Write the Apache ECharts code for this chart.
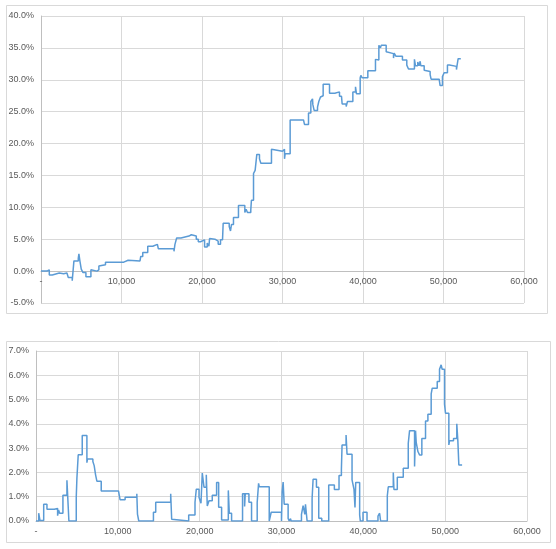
<!DOCTYPE html>
<html>
<head>
<meta charset="utf-8">
<script src="https://cdn.jsdelivr.net/npm/echarts@6/dist/echarts.min.js"></script>
<style>
html, body { margin: 0; padding: 0; background: #fff; }
#chart { width: 556px; height: 549px; }
</style>
</head>
<body>
<div id="chart"></div>
<script>
// top chart: cumulative % (step line)
var topX = [0, 330, 500, 740, 1030, 1400, 2270, 2810, 2970, 3220, 3390, 3880, 4090, 4630, 4710, 4830,
	5000, 5200, 5580, 6200, 6400, 6940, 7190, 7430, 8010, 10280, 10820, 12300, 12390, 12640, 13260,
	13880, 14460, 14580, 16520, 16640, 16850, 17390, 18380, 18670, 19290, 19540, 19820, 20320, 20650,
	20860, 20940, 21150, 21600, 22010, 22300, 22550, 22630, 23380, 23540, 23660, 23910, 24530, 25320,
	25480, 25650, 26060, 26140, 26400, 26600, 26810, 27140, 27310, 28630, 28800, 30000, 30250, 30330,
	30950, 32610, 32730, 33230, 33520, 33730, 33770, 33930, 34350, 34510, 34720, 34930, 35050, 35840,
	36500, 37080, 37330, 37410, 37910, 38070, 38740, 39070, 39190, 39650, 39730, 39900, 40600, 41550,
	41720, 41970, 42170, 42260, 42880, 43040, 43790, 43870, 44080, 44900, 45440, 45650, 46390, 46520,
	46800, 46970, 47100, 47180, 47600, 47720, 48340, 48460, 49460, 49580, 49870, 50080, 50490, 50740,
	51610, 51690, 51820, 52150];
var topY = [0.0, -0.3, 0.0, 0.2, -0.6, -0.3, -0.4, -0.1, -0.3, -0.2, -1.0, -1.5, 1.6, 2.0, 2.7, 1.6,
	0.3, -0.2, -0.9, 0.2, 0.0, 0.2, 0.8, 1.0, 1.4, 1.7, 1.6, 1.4, 2.3, 2.9, 3.9,
	4.2, 3.9, 3.5, 3.1, 4.2, 5.2, 5.5, 5.7, 5.5, 5.0, 4.6, 4.9, 3.8, 4.4,
	3.9, 5.1, 5.0, 4.7, 4.2, 4.9, 5.2, 7.5, 7.0, 6.3, 7.3, 8.4, 10.3, 9.2,
	9.7, 9.2, 9.6, 11.1, 15.3, 15.8, 18.3, 17.6, 16.9, 19.1, 18.8, 19.1, 17.6, 18.4,
	23.7, 23.6, 23.0, 24.8, 26.6, 27.0, 26.1, 25.2, 25.7, 26.6, 27.3, 27.5, 29.3, 27.9,
	28.1, 27.4, 27.2, 26.2, 25.8, 26.6, 28.1, 28.9, 27.8, 30.3, 30.7, 30.3, 31.4, 33.2,
	33.1, 35.4, 35.0, 35.4, 34.4, 34.1, 33.4, 34.2, 33.7, 33.1, 32.3, 31.7, 33.2, 32.2,
	32.8, 32.2, 32.9, 32.2, 31.5, 31.3, 30.8, 30.1, 29.9, 29.1, 30.5, 31.1, 32.3, 32.1,
	31.6, 32.3, 33.3, 33.3];

// bottom chart: drawdown-like % (step line)
var botX = [0, 330, 490, 940, 1340, 2240, 2640, 2760, 2890, 3290, 3780, 4020, 4920, 5000, 5160, 5650,
	6220, 6290, 6950, 7110, 7280, 7440, 7970, 10080, 10200, 10280, 10890, 12320, 12400, 12560, 14350,
	14630, 16460, 16580, 16710, 18660, 19430, 19590, 19920, 20160, 20320, 20530, 20810, 20930, 21140,
	21540, 22070, 22320, 22680, 23500, 23620, 23900, 25240, 25490, 25570, 26020, 26340, 27030, 27200,
	27280, 28500, 28740, 30000, 30080, 30200, 30330, 30810, 30940, 31100, 31180, 32440, 32640, 32850,
	32930, 33130, 33740, 33860, 34270, 34550, 34920, 35770, 36460, 37030, 37320, 37400, 37890, 38010,
	38620, 38860, 38980, 39070, 39550, 39630, 39960, 40450, 41790, 41990, 42110, 42930, 43050, 43660,
	43740, 44150, 44880, 45490, 45650, 46260, 46380, 46460, 46670, 46870, 47150, 47600, 47890, 48290,
	48420, 49030, 49310, 49510, 49630, 49920, 50040, 50450, 50530, 51020, 51420, 51550, 51670, 52070];
var botY = [0.0, 0.32, 0.02, 0.69, 0.48, 0.52, 0.22, 0.45, 0.32, 1.06, 1.68, 0.0, 1.0, 1.77, 2.73, 3.52,
	2.4, 2.55, 2.45, 2.28, 1.9, 1.64, 1.24, 1.17, 1.24, 0.87, 0.98, 1.12, 0.28, 0.0, 0.36,
	0.77, 1.12, 0.07, 0.0, 0.25, 0.77, 1.31, 0.98, 0.73, 1.97, 1.39, 1.9, 0.62, 0.83,
	1.06, 1.59, 0.57, 0.04, 1.26, 0.32, 0.0, 1.12, 0.6, 1.12, 0.77, 0.0, 0.77, 1.55,
	1.41, 0.0, 0.36, 0.0, 1.21, 1.6, 0.69, 0.1, 0.0, 0.1, 0.0, 0.27, 0.63, 0.27,
	0.69, 0.0, 0.93, 1.72, 1.39, 0.11, 0.0, 1.48, 1.3, 1.87, 2.13, 3.13, 3.54, 2.75,
	1.69, 1.3, 0.56, 1.59, 0.25, 0.0, 0.36, 0.0, 0.2, 0.32, 0.0, 1.04, 1.41, 2.0,
	1.3, 1.8, 2.17, 3.2, 3.72, 2.24, 3.72, 3.24, 2.86, 2.72, 3.4, 4.12, 4.4, 5.23,
	5.47, 5.74, 6.25, 6.43, 6.25, 4.81, 4.44, 3.13, 3.3, 3.4, 4.0, 3.3, 2.31, 2.31];

var lineColor = '#5B9BD5';
var gridColor = '#D9D9D9';
var axisColor = '#BFBFBF';
var labelStyle = { color: '#595959', fontSize: 9, fontFamily: 'Liberation Sans' };

function pairs(xs, ys) {
	var out = [];
	for (var i = 0; i < xs.length; i++) {
		out.push([xs[i], ys[i]]);
	}
	return out;
}

function fmtX(v) {
	if (v === 0) return '-';
	return v.toString().replace(/\B(?=(\d{3})+(?!\d))/g, ',');
}

// offset: top chart's x axis sits on the 0% line (one 5% band above the bottom)
function xAxisCfg(idx, offset) {
	return {
		type: 'value',
		gridIndex: idx,
		min: 0,
		max: 60000,
		interval: 10000,
		offset: offset,
		axisLine: { show: true, onZero: false, lineStyle: { color: axisColor } },
		axisTick: { show: false },
		axisLabel: Object.assign({ formatter: fmtX, margin: 6 }, labelStyle),
		splitLine: { show: true, lineStyle: { color: gridColor } }
	};
}

function yAxisCfg(idx, min, max, step) {
	return {
		type: 'value',
		gridIndex: idx,
		min: min,
		max: max,
		interval: step,
		axisLine: { show: true, onZero: false, lineStyle: { color: axisColor } },
		axisTick: { show: false },
		axisLabel: Object.assign({
			formatter: function (v) { return v.toFixed(1) + '%'; },
			margin: 7
		}, labelStyle),
		splitLine: { show: true, lineStyle: { color: gridColor } }
	};
}

var myChart = echarts.init(document.getElementById('chart'), null, { renderer: 'canvas' });

var option = {
	animation: false,
	backgroundColor: '#fff',
	graphic: [
		{ type: 'rect', shape: { x: 6.5, y: 5.5, width: 541, height: 308 },
			style: { fill: 'none', stroke: gridColor, lineWidth: 1 } },
		{ type: 'rect', shape: { x: 6.5, y: 341.5, width: 544, height: 201 },
			style: { fill: 'none', stroke: gridColor, lineWidth: 1 } }
	],
	grid: [
		{ left: 41, right: 32, top: 16, bottom: 246 },
		{ left: 36, right: 29, top: 351, bottom: 28 }
	],
	xAxis: [xAxisCfg(0, -32), xAxisCfg(1, 0)],
	yAxis: [yAxisCfg(0, -5, 40, 5), yAxisCfg(1, 0, 7, 1)],
	series: [
		{
			type: 'line', xAxisIndex: 0, yAxisIndex: 0, step: 'end',
			showSymbol: false, data: pairs(topX, topY),
			lineStyle: { color: lineColor, width: 1.5 }
		},
		{
			type: 'line', xAxisIndex: 1, yAxisIndex: 1, step: 'end',
			showSymbol: false, data: pairs(botX, botY),
			lineStyle: { color: lineColor, width: 1.5 }
		}
	]
};

myChart.setOption(option);
</script>
</body>
</html>
